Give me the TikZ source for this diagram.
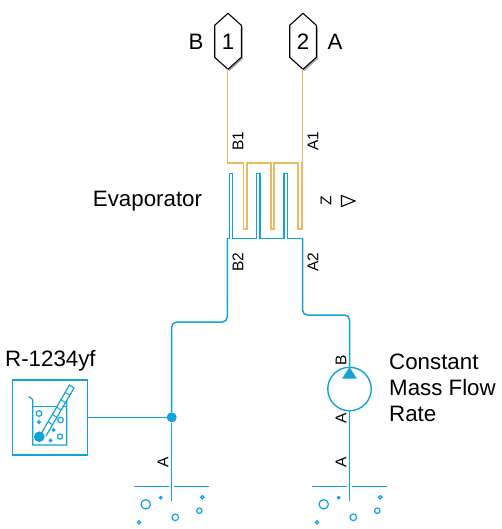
\documentclass[tikz,border=0pt]{standalone}
\usepackage{fontspec}
\setmainfont{Liberation Sans}
\usepackage{tikz}
\usetikzlibrary{arrows.meta,positioning,shapes.geometric,calc}
\definecolor{fluidblue}{RGB}{16,162,216}
\definecolor{gasorange}{RGB}{236,184,96}
\tikzset{
  lbl/.style={font=\fontsize{22.3}{26}\selectfont, inner sep=0pt, align=left},
  tag/.style={font=\fontsize{15.5}{15.5}\selectfont, inner sep=0pt, rotate=90},
  pipe/.style={draw=fluidblue, line width=1.5pt},
  gas/.style={draw=gasorange, line width=1.7pt},
  joint/.style={circle, fill=fluidblue, inner sep=0pt, minimum size=10pt}
}
\begin{document}
\begin{tikzpicture}[x=1pt,y=-1pt]
    \useasboundingbox (0,0) rectangle (501,529);
    % ports
    \foreach \name/\px/\txt in {portb/228/1,porta/303/2}{
      \fill[black!35] (\px+1.5,15) -- ++(13.3,12) -- ++(0,32) -- ++(-13.3,12) -- ++(-13.3,-12) -- ++(0,-32) -- cycle;
      \draw[line width=1.1pt, fill=white] (\px,13.3) -- ++(13.3,12) -- ++(0,32) -- ++(-13.3,12) -- ++(-13.3,-12) -- ++(0,-32) -- cycle;
      \node[lbl] (\name) at (\px,42) {\txt};
      \coordinate (\name-end) at (\px-.5,69);
    }
    \node[lbl] (lblb) at (196,42) {B};
    \node[lbl] (lbla) at (335,42) {A};
    % evaporator
    \draw[gas] (portb-end) -- (227.5,163.3) -- (243.5,163.3) -- (243.5,229) -- (246.7,229) -- (246.7,163.3)
      -- (270.7,163.3) -- (270.7,229) -- (274,229) -- (274,163.3) -- (297.7,163.3) -- (297.7,229)
      -- (301.7,229) -- (301.7,163.3) -- (302.5,163.3) -- (porta-end);
    \coordinate (evap-b2) at (227.3,238.3);
    \coordinate (evap-a2) at (302.5,238.3);
    \draw[pipe] (evap-b2) -- (229.3,238.3) -- (229.3,173.3) -- (232.7,173.3) -- (232.7,238.3) -- (256.7,238.3)
      -- (256.7,173.3) -- (260,173.3) -- (260,238.3) -- (284,238.3) -- (284,173.3) -- (287.3,173.3)
      -- (287.3,238.3) -- (evap-a2);
    \node[tag] (tagb1) at (238,141) {B1};
    \node[tag] (taga1) at (313,141) {A1};
    \node[tag] (tagb2) at (238,262) {B2};
    \node[tag] (taga2) at (313,262) {A2};
    \node[lbl] (evap) at (147.5,201.5) {Evaporator};
    \node[tag] (tagz) at (326,201) {Z};
    \draw[line width=1.1pt] (341.5,195.5) -- (355,201) -- (341.5,206.5) -- cycle;
    % pump
    \node[circle, draw=fluidblue, line width=1.4pt, minimum size=43.5pt, inner sep=0pt] (pump) at (349.5,389) {};
    \fill[fluidblue] (349.5,367) -- (356.8,378.5) -- (342.2,378.5) -- cycle;
    \node[lbl, anchor=west] (pumplbl) at (389,388) {Constant\\Mass Flow\\Rate};
    \node[tag] (tagpb) at (341,360) {B};
    \node[tag] (tagpa) at (341,418) {A};
    \node[tag] (tagra) at (341,462) {A};
    \node[tag] (tagla) at (163,462) {A};
    % source
    \node[draw=fluidblue, line width=1.4pt, minimum size=75pt, inner sep=0pt] (src) at (49.8,417.3) {};
    \node[lbl, anchor=west] (srclbl) at (5,361) {R-1234yf};
    \node[joint] (tee) at (171.7,417.3) {};
    \coordinate (lefthole) at (171.7,501);
    \coordinate (righthole) at (349.5,501);
    \draw[pipe] (src.east) -- (tee);
    \draw[pipe, rounded corners=5pt] (evap-b2) -- (227.3,322) -- (171.7,322) -- (tee);
    \draw[pipe] (tee) -- (lefthole);
    \draw[pipe, rounded corners=5pt] (evap-a2) -- (302.5,315) -- (349.5,315) -- (pump.north);
    \draw[pipe] (pump.south) -- (righthole);
    % beaker
    \draw[fluidblue, line width=1.2pt] (28.5,396.5) -- (32.7,399.5) -- (32.7,445) -- (66.7,445) -- (66.7,400);
    \draw[fluidblue, line width=1.2pt] (32.7,406.7) -- (56,406.7) (62,406.7) -- (66.7,406.7);
    \draw[fluidblue, line width=1.2pt] (41,434) -- (69.5,385) -- (74,388) -- (46,436);
    \foreach \t in {0.25,0.4,0.55,0.7,0.85}{
      \draw[fluidblue, line width=1pt] ($(41,434)!\t!(69.5,385)$) -- ++(4.5,3);
    }
    \fill[fluidblue] (39.3,436.7) circle (5.3);
    \foreach \bx/\by/\br in {39/413.5/2.8,39/422/1.4,60.5/420/2.8,60/436.5/2.6,53.5/430/1.2,50.5/440.5/1.3}{
      \draw[fluidblue, line width=1.2pt] (\bx,\by) circle (\br);
    }
    % ground
    \foreach \gx in {0,178}{
      \draw[pipe] (134+\gx,486.7) -- (169.3+\gx,486.7) (174+\gx,486.7) -- (209+\gx,486.7);
      \foreach \bx/\by/\br in {145.7/504.3/4.7,160.7/497.7/1.2,202.3/497.3/1.7,199.3/510.7/2.7,175.3/517.3/3.3,139/522.3/1.7}{
        \draw[fluidblue, line width=1.2pt] (\bx+\gx,\by) circle (\br);
      }
    }
  \end{tikzpicture}
\end{document}
